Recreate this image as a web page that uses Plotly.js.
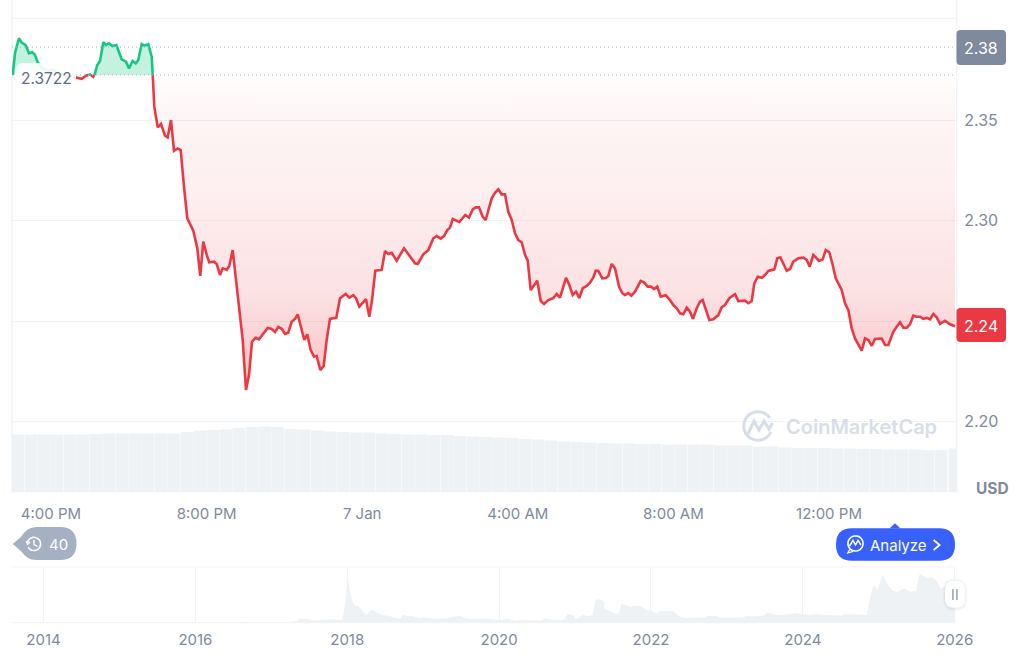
<!DOCTYPE html>
<html><head><meta charset="utf-8">
<script src="https://cdn.plot.ly/plotly-3.0.1.min.js"></script>
<style>html,body{margin:0;padding:0;background:#fff;overflow:hidden}#chart{width:1024px;height:669px}</style>
</head><body><div id="chart"></div>
<script>
// Hours since 00:00 on 6 Jan
const hours = [15.015,15.075,15.177,15.247,15.350,15.434,15.519,15.589,15.658,15.769,15.897,16.026,16.180,16.360,16.540,16.676,16.789,16.900,17.003,17.087,17.131,17.190,17.260,17.345,17.414,17.491,17.576,17.679,17.818,17.928,18.005,18.100,18.178,18.244,18.332,18.399,18.501,18.589,18.615,18.656,18.743,18.828,18.931,19.000,19.085,19.162,19.257,19.334,19.427,19.504,19.658,19.761,19.838,19.915,20.003,20.069,20.190,20.260,20.345,20.414,20.517,20.584,20.671,20.774,20.859,20.928,21.013,21.090,21.167,21.262,21.347,21.458,21.571,21.674,21.758,21.843,21.931,22.016,22.100,22.188,22.273,22.342,22.445,22.512,22.589,22.676,22.761,22.830,22.923,23.010,23.087,23.172,23.334,23.430,23.576,23.669,23.771,23.841,23.926,24.098,24.183,24.252,24.337,24.501,24.586,24.671,24.758,24.887,25.075,25.229,25.358,25.427,25.571,25.699,25.828,25.915,26.018,26.103,26.188,26.257,26.327,26.496,26.651,26.746,26.841,26.918,27.003,27.098,27.175,27.329,27.414,27.499,27.586,27.671,27.756,27.843,27.928,28.013,28.100,28.185,28.255,28.331,28.424,28.501,28.589,28.674,28.784,28.913,29.000,29.085,29.239,29.324,29.411,29.496,29.581,29.669,29.771,29.856,29.941,30.003,30.070,30.172,30.268,30.327,30.414,30.499,30.602,30.687,30.756,30.841,30.918,31.013,31.160,31.244,31.339,31.424,31.501,31.586,31.674,31.802,31.913,31.998,32.085,32.170,32.255,32.342,32.427,32.504,32.599,32.684,32.753,32.923,33.026,33.154,33.242,33.326,33.437,33.584,33.668,33.841,33.926,34.013,34.080,34.167,34.270,34.355,34.440,34.594,34.671,34.748,34.913,34.998,35.082,35.211,35.340,35.427,35.504,35.597,35.743,35.838,35.915,36.008,36.095,36.172,36.326,36.411,36.497,36.584,36.669,36.841,36.926,37.011,37.098,37.183,37.355,37.440,37.525,37.653,37.740,37.825,37.910,37.998,38.082,38.167,38.255,38.339,38.424,38.511,38.596,38.681,38.768,38.854,38.982,39.111,39.240];
const prices = [2.3727,2.3836,2.3910,2.3888,2.3876,2.3835,2.3840,2.3827,2.3790,2.3762,2.3747,2.3752,2.3737,2.3727,2.3719,2.3715,2.3708,2.3723,2.3730,2.3718,2.3735,2.3777,2.3797,2.3890,2.3876,2.3885,2.3871,2.3876,2.3805,2.3793,2.3760,2.3797,2.3785,2.3802,2.3881,2.3873,2.3880,2.3818,2.3727,2.3569,2.3466,2.3483,2.3424,2.3416,2.3502,2.3349,2.3361,2.3353,2.3154,2.3012,2.2951,2.2863,2.2725,2.2896,2.2830,2.2793,2.2796,2.2785,2.2730,2.2763,2.2755,2.2775,2.2854,2.2672,2.2522,2.2406,2.2157,2.2231,2.2397,2.2417,2.2409,2.2436,2.2466,2.2461,2.2446,2.2471,2.2462,2.2436,2.2442,2.2497,2.2511,2.2534,2.2447,2.2406,2.2434,2.2356,2.2323,2.2326,2.2256,2.2276,2.2406,2.2511,2.2517,2.2614,2.2635,2.2617,2.2629,2.2614,2.2572,2.2609,2.2522,2.2605,2.2751,2.2755,2.2849,2.2835,2.2841,2.2801,2.2863,2.2825,2.2788,2.2785,2.2833,2.2854,2.2913,2.2924,2.2911,2.2924,2.2954,2.2966,2.3009,2.2994,2.3029,2.3016,2.3057,2.3067,2.3067,2.3020,2.3004,2.3112,2.3140,2.3157,2.3132,2.3132,2.3045,2.3004,2.2938,2.2904,2.2893,2.2830,2.2801,2.2655,2.2680,2.2701,2.2600,2.2585,2.2605,2.2615,2.2635,2.2617,2.2716,2.2680,2.2630,2.2647,2.2615,2.2664,2.2675,2.2691,2.2718,2.2751,2.2750,2.2713,2.2715,2.2725,2.2785,2.2763,2.2672,2.2639,2.2630,2.2640,2.2627,2.2647,2.2700,2.2693,2.2672,2.2672,2.2660,2.2672,2.2622,2.2629,2.2605,2.2580,2.2564,2.2539,2.2534,2.2567,2.2547,2.2511,2.2564,2.2597,2.2605,2.2505,2.2509,2.2530,2.2569,2.2580,2.2614,2.2634,2.2600,2.2602,2.2589,2.2600,2.2688,2.2721,2.2716,2.2730,2.2750,2.2758,2.2813,2.2818,2.2751,2.2760,2.2796,2.2813,2.2816,2.2805,2.2771,2.2830,2.2800,2.2808,2.2854,2.2843,2.2780,2.2713,2.2655,2.2589,2.2555,2.2464,2.2414,2.2353,2.2414,2.2406,2.2377,2.2411,2.2413,2.2381,2.2381,2.2447,2.2472,2.2494,2.2467,2.2467,2.2484,2.2527,2.2522,2.2522,2.2511,2.2516,2.2509,2.2535,2.2519,2.2486,2.2502,2.2484,2.2474];
const baselinePrice = 2.3727;
const highPrice = 2.3866;
const volumeHours = [15.15,15.49,15.82,16.15,16.49,16.82,17.16,17.49,17.83,18.16,18.49,18.83,19.16,19.50,19.83,20.16,20.50,20.83,21.17,21.50,21.83,22.17,22.50,22.84,23.17,23.50,23.84,24.17,24.51,24.84,25.18,25.51,25.84,26.18,26.51,26.85,27.18,27.51,27.85,28.18,28.52,28.85,29.19,29.52,29.85,30.19,30.52,30.86,31.19,31.52,31.86,32.19,32.53,32.86,33.20,33.53,33.86,34.20,34.53,34.87,35.20,35.53,35.87,36.20,36.54,36.87,37.21,37.54,37.87,38.21,38.54,38.88,39.24];
const volumes = [58,58,58,58,58,58,58.5,59,59,59,59,59,59,60.5,62,62.5,63,64.5,65.5,66,65.5,63.5,63,62,61,60.5,60,60,59,58.5,58,58,57.5,57.5,56.5,56,55.5,55,54.5,53.5,53,52,51,50.5,50,49.5,49,49,48.5,48.5,48,48,48,48,47,47,47,46,46,45,44.5,44.5,44.5,44,44,43.5,43.5,43,43,43,42.5,42.5,44];
const historyYears = [2013.585,2016.72,2017.245,2017.33,2017.38,2017.42,2017.48,2017.55,2017.64,2017.71,2017.79,2017.93,2017.96,2018.01,2018.03,2018.07,2018.11,2018.14,2018.21,2018.26,2018.30,2018.34,2018.39,2018.47,2018.56,2018.63,2018.70,2018.73,2018.78,2018.86,2018.96,2019.00,2019.13,2019.31,2019.39,2019.48,2019.57,2019.70,2019.83,2019.99,2020.01,2020.11,2020.21,2020.34,2020.56,2020.60,2020.69,2020.86,2020.90,2020.97,2021.01,2021.04,2021.11,2021.15,2021.23,2021.27,2021.33,2021.38,2021.39,2021.43,2021.52,2021.58,2021.61,2021.69,2021.75,2021.76,2021.87,2021.93,2022.02,2022.07,2022.12,2022.29,2022.38,2022.47,2022.64,2022.71,2022.75,2022.86,2022.91,2023.02,2023.04,2023.21,2023.26,2023.37,2023.50,2023.54,2023.60,2023.70,2023.83,2023.92,2023.98,2024.09,2024.20,2024.31,2024.51,2024.55,2024.75,2024.84,2024.88,2024.93,2024.98,2025.05,2025.08,2025.12,2025.18,2025.25,2025.34,2025.41,2025.49,2025.54,2025.58,2025.64,2025.69,2025.76,2025.82,2025.89,2025.96,2026.00];
const historyValues = [0,0,0.7,1.7,4.3,3.7,3.7,2.3,2.3,3,3.7,3,12.7,45,32.7,21,16,17,11,7.7,12.3,12.7,10,7.7,6.7,4.7,4.3,8.3,6.7,7,4.3,5.3,4.3,4.3,6,6.7,4.3,3.7,4.3,3.3,2.7,4,2,2.7,2.3,4,3,3.3,8.7,8,4,4.3,8.7,6.7,7.7,22.7,23.7,21,12.7,12.7,9.3,9.3,18.7,17,15.3,16.7,17,12.7,11.7,9.3,11.7,11.7,6,4.7,5.3,4.7,7,6.7,5.3,5,5.3,5.3,7,6.3,7.7,10.3,8.7,7.7,8.7,9.7,8.7,7.7,8.7,7.7,7.3,8.7,8.3,7.7,22.7,38.3,32.7,47.7,44.3,37.7,32,31,34.3,31,32,49.3,47,44.3,46,42,34.3,37.7,32.7,29.3];
const mainTickVals = [16,20,24,28,32,36];
const mainTickText = ['4:00 PM','8:00 PM','7 Jan','4:00 AM','8:00 AM','12:00 PM'];
const priceTickVals = [2.20,2.25,2.30,2.35];
const priceTickText = ['2.20','','2.30','2.35'];
const yearTicks = [2014,2016,2018,2020,2022,2024,2026];

const GREEN='#16c784', RED='#ea3943', GRID='#f1f3f5', TICK='#808a9d', VOL='#eff2f5';
const fontFam='Inter, "Noto Sans", sans-serif';

// Split the line where it crosses the baseline so each colour ends exactly on it
const ex=[], ey=[];
hours.forEach((h,i)=>{
  if(i>0){
    const a=prices[i-1], b=prices[i];
    if((a-baselinePrice)*(b-baselinePrice)<0){
      const t=(baselinePrice-a)/(b-a);
      ex.push(hours[i-1]+t*(h-hours[i-1])); ey.push(baselinePrice);
    }
  }
  ex.push(h); ey.push(prices[i]);
});
const base=ex.map(()=>baselinePrice);

const traces=[
 {x:ex,y:base,mode:'lines',line:{width:0},showlegend:false,hoverinfo:'skip'},
 {x:ex,y:ey.map(v=>Math.min(v,baselinePrice)),mode:'lines',line:{width:0},fill:'tonexty',showlegend:false,hoverinfo:'skip',
  fillgradient:{type:'vertical',start:2.2157,stop:baselinePrice,colorscale:[[0,'rgba(234,57,67,0.30)'],[0.14,'rgba(234,57,67,0.24)'],[0.30,'rgba(234,57,67,0.15)'],[0.62,'rgba(234,57,67,0.085)'],[0.86,'rgba(234,57,67,0.05)'],[0.97,'rgba(234,57,67,0.02)'],[1,'rgba(234,57,67,0.005)']]}},
 {x:ex,y:base,mode:'lines',line:{width:0},showlegend:false,hoverinfo:'skip'},
 {x:ex,y:ey.map(v=>Math.max(v,baselinePrice)),mode:'lines',line:{width:0},fill:'tonexty',fillcolor:'rgba(22,199,132,0.25)',showlegend:false,hoverinfo:'skip'},
 {x:ex,y:ey.map(v=>v<=baselinePrice?v:null),mode:'lines',line:{color:RED,width:2.6},showlegend:false,hoverinfo:'skip'},
 {x:ex,y:ey.map(v=>v>=baselinePrice?v:null),mode:'lines',line:{color:GREEN,width:2.6},showlegend:false,hoverinfo:'skip'},
 {type:'bar',x:volumeHours,y:volumes,yaxis:'y2',width:0.331,marker:{color:VOL,line:{width:0}},showlegend:false,hoverinfo:'skip'},
 {x:historyYears,y:historyValues,xaxis:'x2',yaxis:'y3',mode:'lines',line:{width:0},fill:'tozeroy',fillcolor:VOL,showlegend:false,hoverinfo:'skip'}
];

const W=1024,H=669, X=v=>v/W, Y=v=>1-v/H;
const P=(x,y)=>X(x).toFixed(5)+','+Y(y).toFixed(5);
const rr=(x0,y0,x1,y1,r)=>`M${P(x0+r,y0)}L${P(x1-r,y0)}Q${P(x1,y0)} ${P(x1,y0+r)}L${P(x1,y1-r)}Q${P(x1,y1)} ${P(x1-r,y1)}L${P(x0+r,y1)}Q${P(x0,y1)} ${P(x0,y1-r)}L${P(x0,y0+r)}Q${P(x0,y0)} ${P(x0+r,y0)}Z`;
const arc=(cx,cy,r,a0,a1)=>{let s='';for(let i=0;i<=24;i++){const a=(a0+(a1-a0)*i/24)*Math.PI/180;s+=(i?'L':'M')+P(cx+r*Math.cos(a),cy+r*Math.sin(a));}return s;};
const poly=pts=>pts.map((p,i)=>(i?'L':'M')+P(p[0],p[1])).join('');
const fillShape=(path,color)=>({type:'path',xref:'paper',yref:'paper',layer:'above',path,fillcolor:color,line:{width:0}});
const strokeShape=(path,color,w)=>({type:'path',xref:'paper',yref:'paper',layer:'above',path,line:{color,width:w},fillcolor:'rgba(0,0,0,0)'});
const hline=(y,x0,x1,color,w,dash)=>({type:'line',xref:'paper',yref:'paper',x0:X(x0),x1:X(x1),y0:Y(y),y1:Y(y),layer:'below',line:{color,width:w,dash:dash||'solid'}});
const vline=(x,y0,y1,color,w)=>({type:'line',xref:'paper',yref:'paper',x0:X(x),x1:X(x),y0:Y(y0),y1:Y(y1),layer:'below',line:{color,width:w}});
const dotted=v=>({type:'line',xref:'paper',yref:'y',x0:X(12),x1:X(956),y0:v,y1:v,layer:'above',line:{color:'#a6b0c3',width:1,dash:'1px,3px'}});
const txt=(x,y,text,size,color,extra)=>Object.assign({xref:'paper',yref:'paper',x:X(x),y:Y(y),text,showarrow:false,xanchor:'center',yanchor:'middle',font:{family:fontFam,size,color}},extra||{});

const WM='#d8dee9';
const shapes=[
 hline(18.5,12,957,GRID,1), vline(12,0,492.5,GRID,1.5), vline(956.7,0,492.5,GRID,1.5),
 hline(567,12,955,GRID,1), hline(622.7,12,955,GRID,1),
 dotted(highPrice), dotted(baselinePrice),
 // opening price label backing
 fillShape(rr(15,63,76,89,9),'rgba(255,255,255,0.9)'),
 // price tags
 fillShape(rr(956.5,30,1006,65,4),'#808a9d'),
 fillShape(rr(956.5,308,1006,342,4),RED),
 // watermark
 strokeShape(arc(758,426,14.3,25,325),WM,3),
 strokeShape(poly([[748,434],[754,421],[759,430],[764,421],[769,429],[772.5,423]]),WM,3),
 // history badge
 fillShape(`M${P(12.7,544)}L${P(21,537)}Q${P(27,527)} ${P(36,527)}L${P(60,527)}Q${P(76.5,527)} ${P(76.5,543.5)}Q${P(76.5,560)} ${P(60,560)}L${P(36,560)}Q${P(27,560)} ${P(21,551)}Z`,'#a6b0c3'),
 strokeShape(arc(34,544,6.6,-170,150),'#ffffff',1.6),
 strokeShape(poly([[34,540],[34,544.5],[37.5,546.5]]),'#ffffff',1.4),
 strokeShape(poly([[26,541],[27.6,544.5],[30,542]]),'#ffffff',1.2),
 // analyze button
 fillShape(rr(836,528.3,955,560.7,16),'#3861fb'),
 fillShape(poly([[889.5,528.6],[895,523.3],[900.5,528.6]])+'Z','#3861fb'),
 strokeShape(arc(855.5,543.5,7.6,80,440),'#ffffff',1.6),
 strokeShape(poly([[849.5,546],[853,540.5],[855.5,545],[858,540.5],[861,545]]),'#ffffff',1.5),
 strokeShape(poly([[850,549],[847.8,553],[853,551.5]]),'#ffffff',1.3),
 strokeShape(poly([[933.6,540],[939.6,545],[933.6,550]]),'#ffffff',1.8),
 // range handle
 fillShape(rr(943,578.7,967,610.7,11),'rgba(88,102,126,0.04)'),
 fillShape(rr(944,579.7,966,609.7,10),'rgba(88,102,126,0.05)'),
 fillShape(rr(945,580.7,965,607.7,9),'#ffffff'),
 fillShape(rr(952,589,953.8,600,0.5),'#a6b0c3'),
 fillShape(rr(956,589,957.8,600,0.5),'#a6b0c3')
];

const annotations=[
 txt(46,78,'2.3722',15.5,'#616e85'),
 txt(981,48,'2.38',16,'#ffffff'),
 txt(981,326,'2.24',16,'#ffffff'),
 txt(992,488,'USD',15.5,'#808a9d',{font:{family:fontFam,size:15.5,color:'#808a9d',weight:700}}),
 txt(861,427.5,'CoinMarketCap',20,WM,{font:{family:fontFam,size:20,color:WM,weight:600}}),
 txt(58.5,544,'40',15,'#ffffff'),
 txt(898,545,'Analyze',15,'#ffffff')
];

const layout={
 width:W,height:H,margin:{l:0,r:0,t:0,b:0,pad:0},paper_bgcolor:'#fff',plot_bgcolor:'rgba(0,0,0,0)',
 font:{family:fontFam,size:15,color:TICK},showlegend:false,hovermode:false,barmode:'overlay',
 xaxis:{domain:[X(12),X(957)],range:[14.998,39.290],anchor:'y',tickmode:'array',tickvals:mainTickVals,ticktext:mainTickText,
   showgrid:false,zeroline:false,showline:false,ticks:'outside',ticklen:7,tickcolor:'rgba(0,0,0,0)',tickfont:{family:fontFam,size:15,color:TICK}},
 yaxis:{domain:[Y(492.5),Y(19)],range:[2.16456,2.40060],anchor:'x',side:'right',tickmode:'array',tickvals:priceTickVals,ticktext:priceTickText,
   showgrid:true,gridcolor:GRID,gridwidth:1,zeroline:false,showline:false,ticks:'outside',ticklen:3,tickcolor:'rgba(0,0,0,0)',tickfont:{family:fontFam,size:16,color:TICK}},
 yaxis2:{overlaying:'y',range:[0,473.5],visible:false,fixedrange:true},
 xaxis2:{domain:[X(12),X(957)],range:[2013.585,2026.03],anchor:'y3',tickmode:'array',tickvals:yearTicks,ticktext:yearTicks.map(String),
   showgrid:true,gridcolor:GRID,gridwidth:1,zeroline:false,showline:false,ticks:'outside',ticklen:3,tickcolor:'rgba(0,0,0,0)',tickfont:{family:fontFam,size:15,color:TICK}},
 yaxis3:{domain:[Y(622.7),Y(567)],range:[0,55.7],anchor:'x2',visible:false},
 shapes,annotations
};
Plotly.newPlot('chart',traces,layout,{staticPlot:true,displayModeBar:false,responsive:false});
</script></body></html>
